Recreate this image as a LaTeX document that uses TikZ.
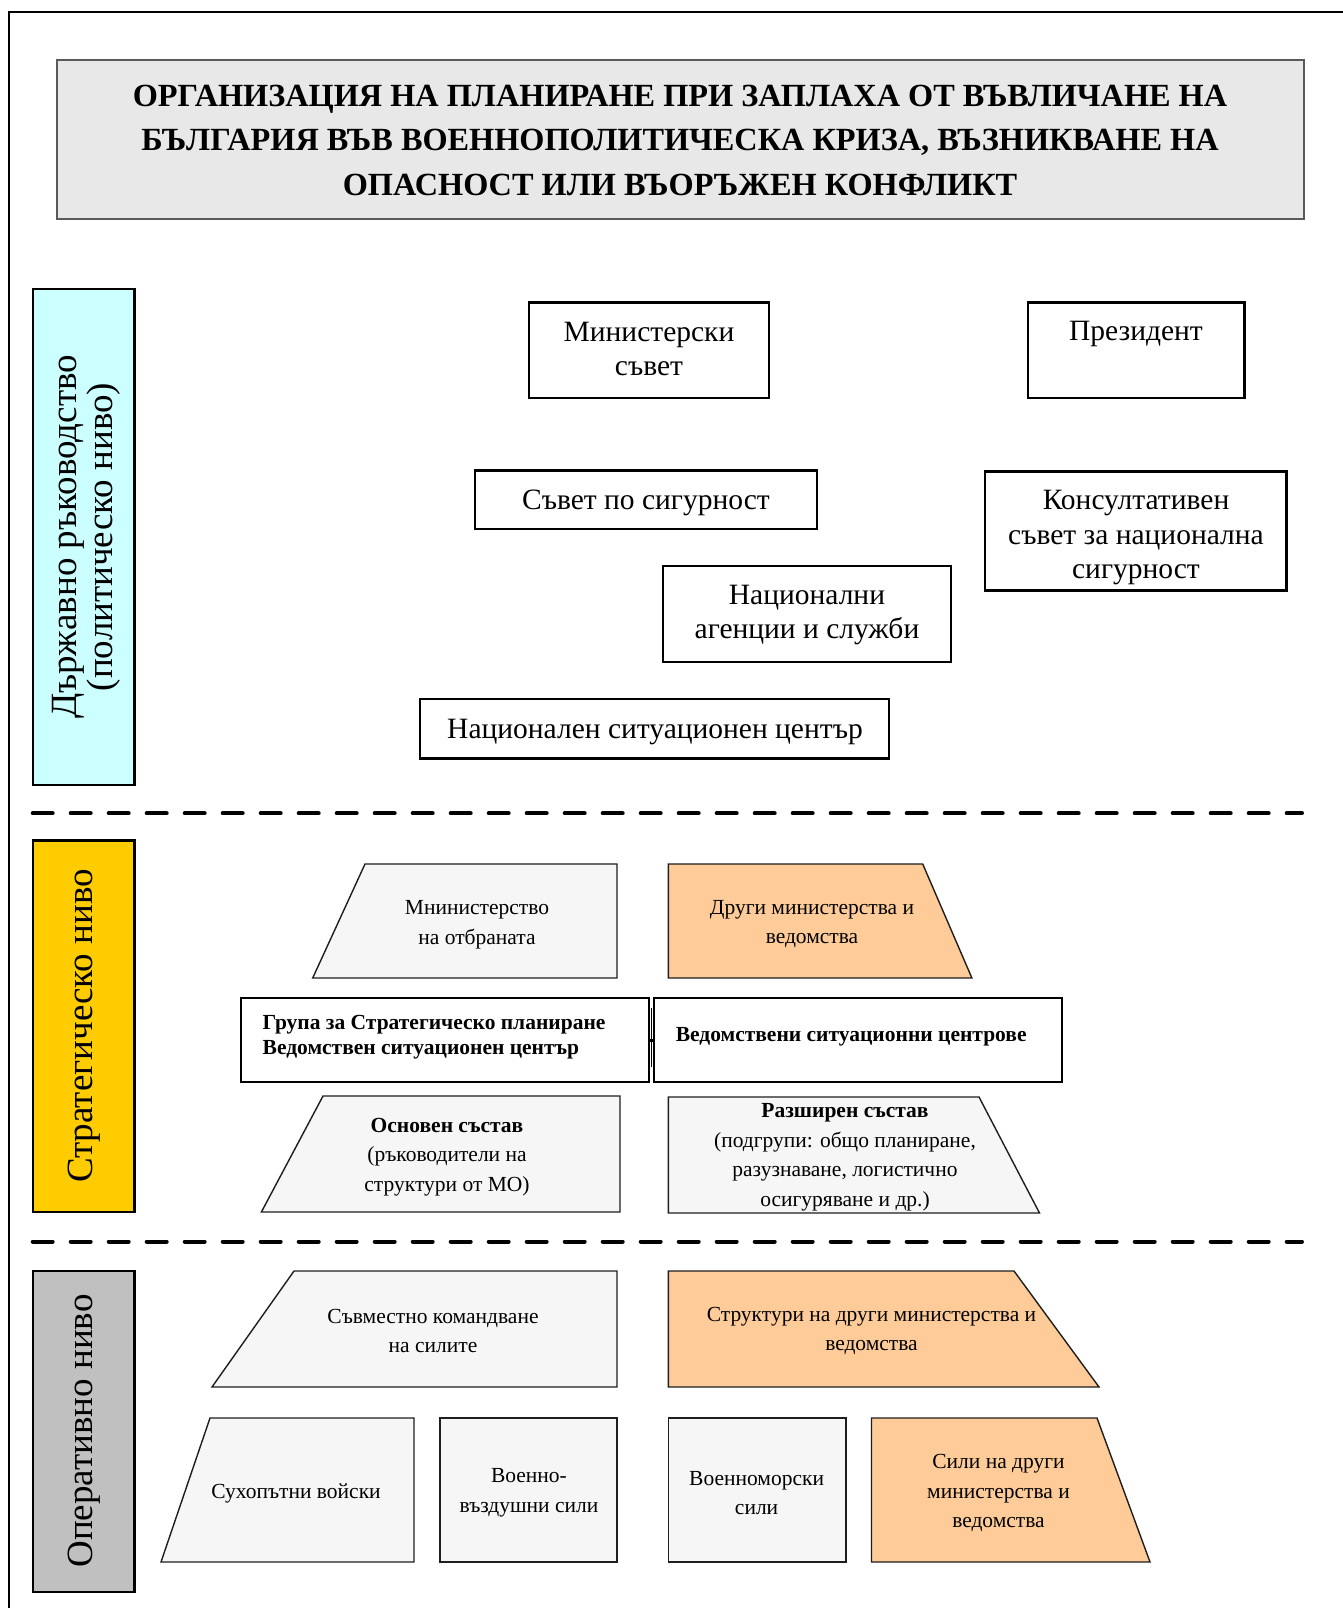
\documentclass[tikz,border=0pt]{standalone}
\usepackage{fontspec}
\setmainfont{Liberation Serif}
\definecolor{titlegray}{RGB}{232,232,232}
\definecolor{titleedge}{RGB}{90,90,90}
\definecolor{cyanbar}{RGB}{204,255,255}
\definecolor{yellowbar}{RGB}{255,204,0}
\definecolor{graybar}{RGB}{192,192,192}
\definecolor{orangefill}{RGB}{255,204,153}
\definecolor{lightfill}{RGB}{246,246,246}
\definecolor{trapedge}{RGB}{30,30,30}
\tikzset{
  frameline/.style={line width=2.5pt, black},
  titlebox/.style={draw=titleedge, line width=2pt, fill=titlegray},
  lvlbar/.style={draw=black, line width=2.5pt},
  polbox/.style={draw=black, line width=2.5pt, fill=white, inner sep=0pt},
  stratrect/.style={draw=black, line width=2pt, fill=white, inner sep=0pt},
  trap/.style={draw=trapedge, line width=1.4pt, fill=lightfill},
  otrap/.style={draw=trapedge, line width=1.4pt, fill=orangefill},
  sepline/.style={line width=4pt, line cap=round, dash pattern=on 20pt off 18pt},
  titletext/.style={font=\fontsize{32.3}{44.5}\selectfont\bfseries, align=center, inner sep=0pt},
  bartext/.style={font=\fontsize{37}{36}\selectfont, align=center, inner sep=0pt, rotate=90},
  poltext/.style={font=\fontsize{29.5}{34.5}\selectfont, align=center, inner sep=0pt},
  traptext/.style={font=\fontsize{21.5}{29.5}\selectfont, align=center, inner sep=0pt},
  grptext/.style={font=\fontsize{21.5}{25}\selectfont\bfseries, align=left, inner sep=0pt, anchor=west}
}
\begin{document}
\begin{tikzpicture}[x=1pt,y=-1pt]
\useasboundingbox (0,0) rectangle (1343,1608);
% outer frame
\draw[frameline] (9,1608) -- (9,12) -- (1343,12);
% title
\path[titlebox] (57.4,60.5) rectangle (1304,219.4);
\node[titletext] (title) at (680,140) {ОРГАНИЗАЦИЯ НА ПЛАНИРАНЕ ПРИ ЗАПЛАХА ОТ ВЪВЛИЧАНЕ НА\\БЪЛГАРИЯ ВЪВ ВОЕННОПОЛИТИЧЕСКА КРИЗА, ВЪЗНИКВАНЕ НА\\ОПАСНОСТ ИЛИ ВЪОРЪЖЕН КОНФЛИКТ};
% level bars
\path[lvlbar, fill=cyanbar] (32.8,289) rectangle (134.3,785);
\node[bartext] (lvlpol) at (86.5,537) {Държавно ръководство\\(политическо ниво)};
\path[lvlbar, fill=yellowbar] (32.8,840.6) rectangle (134.3,1211.8);
\node[bartext] (lvlstr) at (84.5,1026) {Стратегическо ниво};
\path[lvlbar, fill=graybar] (32.8,1271) rectangle (134.3,1592);
\node[bartext] (lvlop) at (84.5,1431) {Оперативно ниво};
% separators
\draw[sepline] (32.7,813.3) -- (1302,813.3);
\draw[sepline] (32.7,1241.5) -- (1302,1241.5);
% political level
\node[polbox, minimum width=240pt, minimum height=95.4pt] (ms) at (649,350.1) {};
\node[poltext] (mst) at (649,349) {Министерски\\съвет};
\node[polbox, minimum width=216.6pt, minimum height=95.4pt] (pr) at (1136.3,350.1) {};
\node[poltext] (prt) at (1136,334) {Президент};
\node[polbox, minimum width=342.3pt, minimum height=58.4pt] (ss) at (645.9,499.8) {};
\node[poltext] (sst) at (646,503) {Съвет по сигурност};
\node[polbox, minimum width=301.6pt, minimum height=118.9pt] (ks) at (1135.8,531) {};
\node[poltext] (kst) at (1136,538) {Консултативен\\съвет за национална\\сигурност};
\node[polbox, minimum width=288pt, minimum height=96pt] (na) at (807,614) {};
\node[poltext] (nat) at (807,615) {Национални\\агенции и служби};
\node[polbox, minimum width=469pt, minimum height=59.6pt] (nc) at (654.5,728.8) {};
\node[poltext] (nct) at (655,732) {Национален ситуационен център};
% strategic level
\path[trap] (365,864) -- (617,864) -- (617,978) -- (312.7,978) -- cycle;
\node[traptext] (mo) at (477,924.5) {Мнинистерство\\на отбраната};
\path[otrap] (668.4,864) -- (922.7,864) -- (971.9,978) -- (668.4,978) -- cycle;
\node[traptext] (dm) at (812,924) {Други министерства и\\ведомства};
\node[stratrect, minimum width=408pt, minimum height=83.1pt] (gsp) at (445,1040) {};
\node[grptext] (gspt) at (262.5,1037) {Група за Стратегическо планиране\\Ведомствен ситуационен център};
\node[stratrect, minimum width=408pt, minimum height=83.1pt] (vsc) at (858,1040) {};
\node[grptext] (vsct) at (675.6,1037) {Ведомствени ситуационни центрове};
\draw[line width=0.8pt] (651.5,1008) -- (651.5,1067);
\draw[line width=3pt] (gsp.east) -- (vsc.west);
\path[trap] (323,1096) -- (620,1096) -- (620,1212) -- (261.4,1212) -- cycle;
\node[traptext] (os) at (447,1157) {\textbf{Основен състав}\\(ръководители на\\структури от МО)};
\path[trap] (668.4,1097) -- (979,1097) -- (1039.5,1213) -- (668.4,1213) -- cycle;
\node[traptext] (rs) at (845,1157.5) {\textbf{Разширен състав}\\(подгрупи: общо планиране,\\разузнаване, логистично\\осигуряване и др.)};
% operative level
\path[trap] (294,1271) -- (617,1271) -- (617,1387) -- (212,1387) -- cycle;
\node[traptext] (sk) at (433,1331) {Съвместно командване\\на силите};
\path[otrap] (668.4,1271) -- (1014,1271) -- (1099,1387) -- (668.4,1387) -- cycle;
\node[traptext] (sdm) at (871.5,1331) {Структури на други министерства и\\ведомства};
\path[trap] (210,1418) -- (414,1418) -- (414,1562) -- (161,1562) -- cycle;
\node[traptext] (sv) at (296,1493) {Сухопътни войски};
\path[trap] (440,1418) rectangle (617,1562);
\node[traptext] (vvs) at (529,1493) {Военно-\\въздушни сили};
\path[trap] (668.4,1418) rectangle (846,1562);
\node[traptext] (vms) at (756.6,1493) {Военноморски\\сили};
\path[otrap] (871.5,1418) -- (1097,1418) -- (1150,1562) -- (871.5,1562) -- cycle;
\node[traptext] (sdm2) at (998.5,1493) {Сили на други\\министерства и\\ведомства};
\end{tikzpicture}
\end{document}
